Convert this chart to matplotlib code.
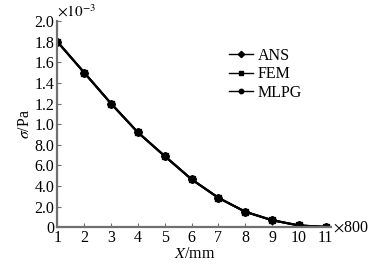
import matplotlib
matplotlib.use("Agg")
import matplotlib.pyplot as plt
from matplotlib.ticker import FixedLocator, FixedFormatter

plt.rcParams['font.family'] = ['Liberation Serif', 'DejaVu Serif']
plt.rcParams['mathtext.fontset'] = 'stix'

x = [1, 2, 3, 4, 5, 6, 7, 8, 9, 10, 11]
ans = [1.80, 1.50, 1.20, 0.92, 0.69, 0.465, 0.285, 0.15, 0.068, 0.017, 0.003]
fem = [1.80, 1.50, 1.20, 0.92, 0.69, 0.465, 0.285, 0.15, 0.068, 0.017, 0.003]
mlpg = [1.80, 1.50, 1.20, 0.92, 0.69, 0.465, 0.285, 0.15, 0.068, 0.017, 0.003]
yticks = [0, 0.2, 0.4, 0.6, 0.8, 1.0, 1.2, 1.4, 1.6, 1.8, 2.0]
ytick_labels = ['0', '2.0', '4.0', '6.0', '8.0', '1.0', '1.2', '1.4', '1.6', '1.8', '2.0']
xticks = [1, 2, 3, 4, 5, 6, 7, 8, 9, 10, 11]

fig = plt.figure(figsize=(3.70, 2.67), dpi=100)
ax = fig.add_axes([0.155, 0.149, 0.74, 0.772])

ax.plot(x, ans, color='black', lw=1.5, marker='D', ms=4.5, label='ANS')
ax.plot(x, fem, color='black', lw=1.5, marker='s', ms=4.0, label='FEM')
ax.plot(x, mlpg, color='black', lw=1.5, marker='o', ms=4.8, label='MLPG')

ax.set_xlim(1, 11.2)
ax.set_ylim(0, 2.0)
ax.xaxis.set_major_locator(FixedLocator(xticks))
ax.yaxis.set_major_locator(FixedLocator(yticks))
ax.yaxis.set_major_formatter(FixedFormatter(ytick_labels))
for s in ['top', 'right']:
    ax.spines[s].set_visible(False)
for s in ['left', 'bottom']:
    ax.spines[s].set_color('#707070')
    ax.spines[s].set_linewidth(1.6)
ax.tick_params(direction='in', length=3, width=0.8, color='#707070',
               labelsize=11.5, pad=2)

ax.set_xlabel(r'$X$/mm', fontsize=11.5, labelpad=0)
ax.set_ylabel(r'$\sigma$/Pa', fontsize=11.5, labelpad=1)

ax.text(0.0, 1.005, r'$\times10^{-3}$', transform=ax.transAxes,
        fontsize=11, ha='left', va='bottom')
ax.text(1.005, 0.0, r'$\times$800', transform=ax.transAxes,
        fontsize=11.5, ha='left', va='center')

leg = ax.legend(loc='upper left', bbox_to_anchor=(0.628, 0.87), frameon=False,
                fontsize=11.5, handlelength=1.5, handletextpad=0.3,
                labelspacing=0.15, borderaxespad=0, borderpad=0)
for ln in leg.get_lines():
    ln.set_linewidth(1.0)
    ln.set_markersize(3.2)

fig.savefig('out.png', dpi=100)
